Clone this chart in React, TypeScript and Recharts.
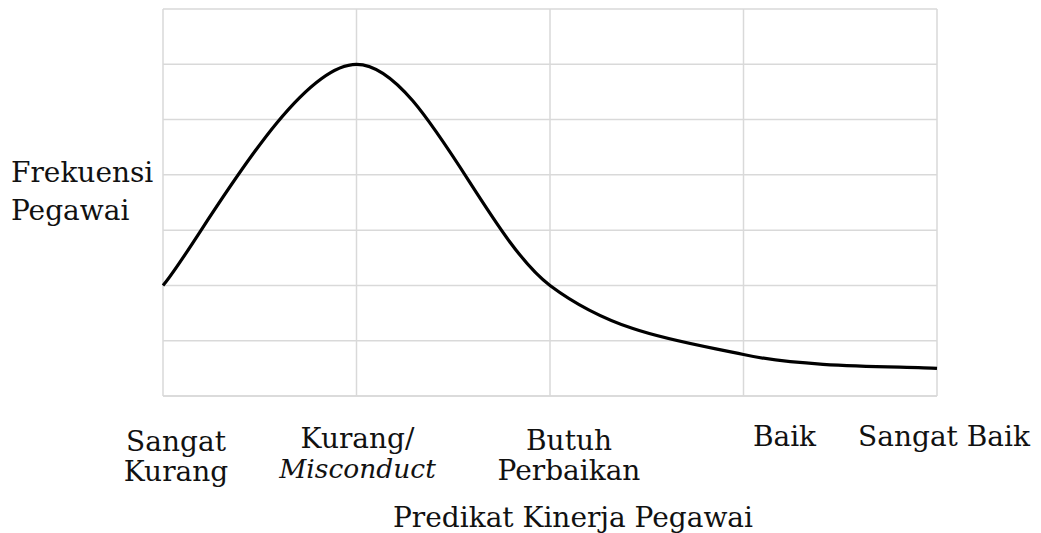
import { LineChart, Line, XAxis, YAxis, CartesianGrid } from 'recharts';

// predikat categories on the x axis (one entry per line of the label)
const CATEGORY_LINES: string[][] = [
  ['Sangat', 'Kurang'],
  ['Kurang/', 'Misconduct'],
  ['Butuh', 'Perbaikan'],
  ['Baik'],
  ['Sangat Baik'],
];
const ITALIC_WORDS = ['Misconduct'];

// frequency at each predikat, in grid units
const FREQUENCY = [2, 6, 2, 0.75, 0.5];

const X_TICKS = [0, 1, 2, 3, 4];
const Y_TICKS = [0, 1, 2, 3, 4, 5, 6, 7];

const Y_LABEL = ['Frekuensi', 'Pegawai'];
const X_TITLE = 'Predikat Kinerja Pegawai';

const FONT = '"DejaVu Serif", serif';
const GRID = '#d9d9d9';

const data = FREQUENCY.map((freq, idx) => ({ idx, freq }));

// spreadsheet-style smoothed line (catmull-rom, endpoints duplicated)
const smoothLine = (ctx: any) => {
  let pts: [number, number][] = [];
  return {
    areaStart() {},
    areaEnd() {},
    lineStart() {
      pts = [];
    },
    point(x: number, y: number) {
      pts.push([+x, +y]);
    },
    lineEnd() {
      if (!pts.length) return;
      ctx.moveTo(pts[0][0], pts[0][1]);
      for (let i = 0; i < pts.length - 1; i++) {
        const p0 = pts[i - 1] || pts[i];
        const p1 = pts[i];
        const p2 = pts[i + 1];
        const p3 = pts[i + 2] || p2;
        ctx.bezierCurveTo(
          p1[0] + (p2[0] - p0[0]) / 6,
          p1[1] + (p2[1] - p0[1]) / 6,
          p2[0] - (p3[0] - p1[0]) / 6,
          p2[1] - (p3[1] - p1[1]) / 6,
          p2[0],
          p2[1],
        );
      }
    },
  };
};

// small nudges so labels sit where the original put them
const LABEL_DX = [13, 1, 19, 41, 7];
const LABEL_BASE = [47, 44, 46, 42, 42];

const CategoryTick = ({ x, y, payload }: any) => {
  const idx = payload.value as number;
  const lines = CATEGORY_LINES[idx] || [];
  return (
    <g>
      {lines.map((line, k) => {
        const italic = ITALIC_WORDS.includes(line);
        return (
          <text
            key={k}
            x={x + LABEL_DX[idx]}
            y={y + LABEL_BASE[idx] + k * 30}
            textAnchor="middle"
            fontFamily={FONT}
            fontSize={italic ? 26.5 : 28}
            fontStyle={italic ? 'italic' : 'normal'}
            fill="#111"
          >
            {line}
          </text>
        );
      })}
    </g>
  );
};

const EmptyTick = () => <g />;

export default function App() {
  return (
    <div style={{ position: 'absolute', left: 0, top: 0, width: 1041, height: 533, background: '#fff' }}>
      <LineChart width={1041} height={533} data={data} margin={{ top: 9, right: 104, left: 163, bottom: 0 }}>
        <CartesianGrid stroke={GRID} strokeWidth={1.5} />
        <XAxis
          type="number"
          dataKey="idx"
          domain={[0, 4]}
          ticks={X_TICKS}
          height={137}
          axisLine={{ stroke: GRID, strokeWidth: 1.5 }}
          tickLine={false}
          tick={<CategoryTick />}
          interval={0}
        />
        <YAxis
          type="number"
          domain={[0, 7]}
          ticks={Y_TICKS}
          width={0}
          tick={<EmptyTick />}
          axisLine={false}
          tickLine={false}
          interval={0}
        />
        <Line
          type={smoothLine as any}
          dataKey="freq"
          stroke="#000"
          strokeWidth={3.2}
          dot={false}
          isAnimationActive={false}
        />
      </LineChart>
      <svg width={1041} height={533} style={{ position: 'absolute', left: 0, top: 0, pointerEvents: 'none' }}>
        {Y_LABEL.map((line, k) => (
          <text key={k} x={11} y={182 + k * 38} fontFamily={FONT} fontSize={28} fill="#111">
            {line}
          </text>
        ))}
        <text x={573} y={527} textAnchor="middle" fontFamily={FONT} fontSize={28} fill="#111">
          {X_TITLE}
        </text>
      </svg>
    </div>
  );
}
